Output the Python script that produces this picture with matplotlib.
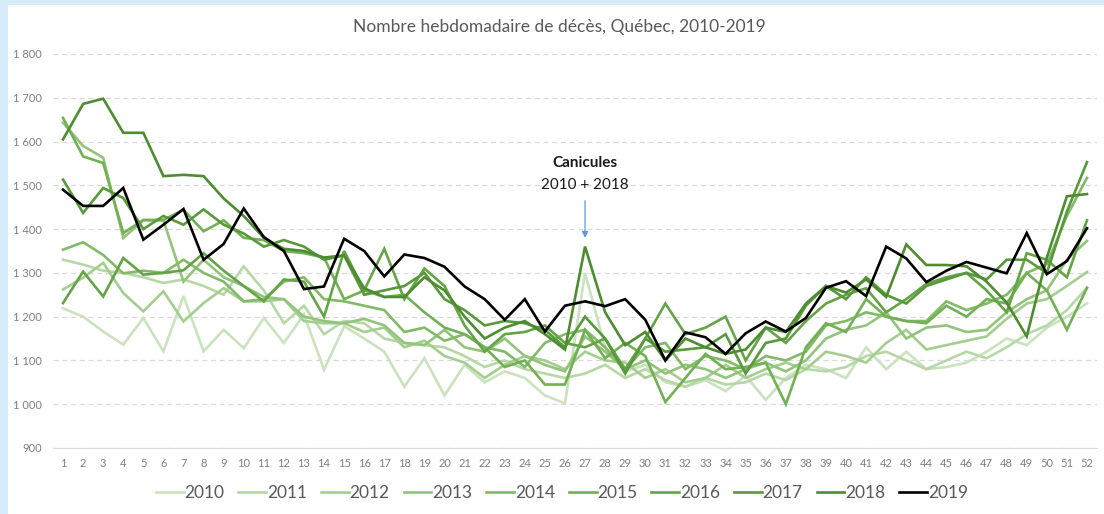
import matplotlib.pyplot as plt
from matplotlib.patches import Rectangle
from matplotlib.ticker import FuncFormatter, MultipleLocator

plt.rcParams["font.family"] = ["Lato", "DejaVu Sans"]

weeks = list(range(1, 53))
years = ["2010", "2011", "2012", "2013", "2014", "2015", "2016", "2017", "2018", "2019"]

deaths_2010 = [1219, 1200, 1166, 1136, 1197, 1121, 1247, 1121, 1170, 1128, 1197, 1140, 1205, 1079,
               1178, 1150, 1120, 1040, 1105, 1020, 1090, 1050, 1075, 1060, 1020, 1002, 1300, 1130,
               1075, 1090, 1050, 1040, 1055, 1030, 1065, 1010, 1060, 1090, 1080, 1060, 1130, 1080,
               1120, 1080, 1085, 1095, 1120, 1150, 1135, 1175, 1200, 1230]
deaths_2011 = [1330, 1319, 1305, 1300, 1290, 1277, 1285, 1270, 1250, 1315, 1260, 1185, 1225, 1160,
               1190, 1185, 1150, 1140, 1135, 1130, 1110, 1085, 1100, 1080, 1070, 1060, 1070, 1090,
               1060, 1080, 1055, 1040, 1060, 1045, 1050, 1070, 1055, 1080, 1075, 1085, 1110, 1120,
               1100, 1080, 1100, 1120, 1105, 1130, 1160, 1180, 1215, 1266]
deaths_2012 = [1262, 1289, 1323, 1254, 1212, 1258, 1189, 1231, 1265, 1235, 1235, 1240, 1190, 1185,
               1185, 1165, 1175, 1130, 1145, 1110, 1095, 1060, 1090, 1110, 1100, 1080, 1120, 1100,
               1095, 1060, 1080, 1050, 1060, 1090, 1060, 1080, 1095, 1080, 1120, 1110, 1095, 1140,
               1170, 1125, 1135, 1145, 1155, 1195, 1230, 1240, 1270, 1302]
deaths_2013 = [1643, 1590, 1563, 1380, 1420, 1420, 1280, 1330, 1290, 1270, 1245, 1240, 1200, 1190,
               1185, 1195, 1180, 1140, 1135, 1170, 1130, 1120, 1150, 1110, 1090, 1075, 1155, 1120,
               1080, 1100, 1070, 1090, 1080, 1060, 1080, 1095, 1075, 1100, 1150, 1170, 1180, 1210,
               1150, 1175, 1180, 1165, 1170, 1210, 1240, 1260, 1330, 1373]
deaths_2014 = [1353, 1370, 1341, 1299, 1305, 1300, 1330, 1300, 1280, 1235, 1240, 1280, 1290, 1240,
               1235, 1225, 1215, 1165, 1175, 1145, 1160, 1130, 1120, 1085, 1140, 1160, 1170, 1130,
               1080, 1130, 1140, 1080, 1110, 1100, 1080, 1110, 1100, 1120, 1180, 1190, 1210, 1200,
               1190, 1190, 1235, 1215, 1230, 1250, 1300, 1320, 1430, 1517]
deaths_2015 = [1654, 1566, 1551, 1391, 1421, 1421, 1444, 1395, 1420, 1380, 1375, 1350, 1345, 1335,
               1240, 1260, 1245, 1250, 1210, 1175, 1160, 1130, 1085, 1100, 1045, 1045, 1170, 1105,
               1140, 1110, 1005, 1060, 1115, 1080, 1085, 1095, 1000, 1130, 1185, 1165, 1240, 1200,
               1190, 1185, 1225, 1200, 1240, 1230, 1300, 1260, 1170, 1266]
deaths_2016 = [1231, 1303, 1246, 1334, 1296, 1300, 1306, 1345, 1305, 1270, 1235, 1285, 1280, 1200,
               1350, 1260, 1355, 1240, 1310, 1270, 1180, 1120, 1160, 1165, 1180, 1140, 1130, 1150,
               1080, 1150, 1230, 1160, 1175, 1200, 1100, 1175, 1140, 1190, 1230, 1250, 1265, 1210,
               1240, 1275, 1290, 1300, 1260, 1210, 1345, 1330, 1290, 1420]
deaths_2017 = [1513, 1437, 1494, 1471, 1400, 1430, 1410, 1445, 1410, 1390, 1360, 1375, 1360, 1330,
               1340, 1250, 1260, 1270, 1300, 1240, 1215, 1180, 1190, 1185, 1170, 1130, 1200, 1150,
               1070, 1150, 1120, 1125, 1130, 1160, 1070, 1140, 1150, 1225, 1270, 1240, 1290, 1250,
               1230, 1270, 1285, 1300, 1285, 1330, 1330, 1300, 1440, 1553]
deaths_2018 = [1605, 1686, 1698, 1620, 1620, 1521, 1524, 1521, 1470, 1430, 1380, 1355, 1350, 1335,
               1340, 1265, 1245, 1245, 1290, 1260, 1200, 1150, 1175, 1190, 1160, 1125, 1360, 1210,
               1135, 1165, 1100, 1150, 1130, 1115, 1125, 1175, 1165, 1230, 1270, 1255, 1285, 1245,
               1365, 1318, 1318, 1315, 1280, 1232, 1155, 1335, 1475, 1480]
deaths_2019 = [1490, 1453, 1453, 1494, 1376, 1410, 1446, 1330, 1366, 1447, 1382, 1350, 1263, 1269,
               1378, 1350, 1292, 1342, 1334, 1314, 1269, 1240, 1193, 1240, 1166, 1225, 1235, 1224,
               1240, 1193, 1100, 1164, 1153, 1115, 1162, 1189, 1166, 1197, 1266, 1281, 1247, 1360,
               1333, 1279, 1305, 1325, 1312, 1299, 1391, 1297, 1327, 1402]

series = [deaths_2010, deaths_2011, deaths_2012, deaths_2013, deaths_2014,
          deaths_2015, deaths_2016, deaths_2017, deaths_2018, deaths_2019]
colors = ["#cbe2bf", "#b7d8a6", "#a4ce8f", "#93c47b", "#82ba67",
          "#72b055", "#64a446", "#58993b", "#4d8c31", "#000000"]

fig = plt.figure(figsize=(11.04, 5.14), dpi=100, facecolor="#d6ecf8")
fig.patches.append(Rectangle((8 / 1104, 0), 1 - 8 / 1104, 1 - 5 / 514,
                             transform=fig.transFigure, facecolor="white",
                             edgecolor="none", zorder=-10))
ax = fig.add_axes([53 / 1104, 1 - 448 / 514, (1097 - 53) / 1104, (448 - 54) / 514])
ax.set_facecolor("none")

for year, vals, col in zip(years, series, colors):
    ax.plot(weeks, vals, color=col, lw=1.9, label=year, solid_joinstyle="miter")

ax.set_xlim(0.5, 52.5)
ax.set_ylim(900, 1800)
ax.yaxis.set_major_locator(MultipleLocator(100))
ax.yaxis.set_major_formatter(FuncFormatter(lambda v, p: f"{int(v):,}".replace(",", " ")))
ax.set_xticks(weeks)
ax.tick_params(axis="both", length=0, labelsize=8, labelcolor="#7f7f7f")
ax.tick_params(axis="x", pad=7)
ax.tick_params(axis="y", pad=8)
ax.yaxis.grid(True, linestyle=(0, (4, 3)), color="#d9d9d9", lw=0.9)
ax.set_axisbelow(True)
for side in ["top", "right", "left"]:
    ax.spines[side].set_visible(False)
ax.spines["bottom"].set_color("#d9d9d9")

fig.text(0.507, 0.947, "Nombre hebdomadaire de décès, Québec, 2010-2019",
         ha="center", va="center", fontsize=12.5, color="#595959")

ax.text(27, 1552, "Canicules", ha="center", va="center", fontsize=11,
        fontweight="bold", color="#1a1a1a")
ax.text(27, 1501, "2010 + 2018", ha="center", va="center", fontsize=11, color="#1a1a1a")
ax.annotate("", xy=(27, 1380), xytext=(27, 1465),
            arrowprops=dict(arrowstyle="-|>", color="#5b9bd5", lw=0.9,
                            mutation_scale=9, shrinkA=0, shrinkB=0))

fig.legend(loc="center", bbox_to_anchor=(562 / 1104, 0.041), ncol=10, frameon=False,
           fontsize=12.5, labelcolor="#595959", handlelength=1.6, handletextpad=0.05,
           columnspacing=0.8)

fig.savefig("out.png", dpi=100, facecolor=fig.get_facecolor())
